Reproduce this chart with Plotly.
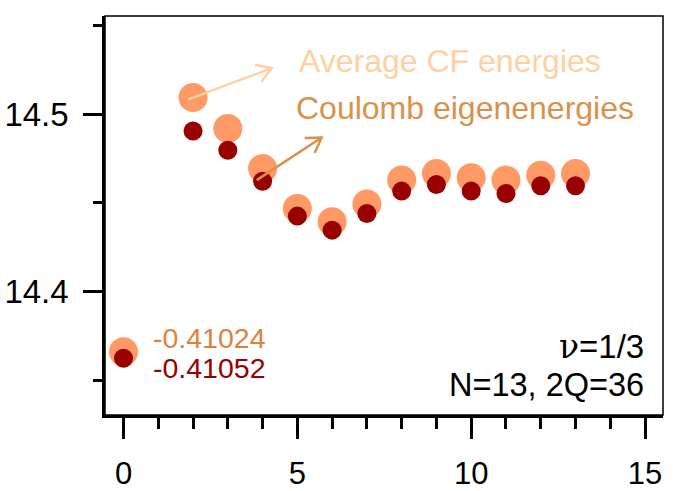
import math
import plotly.graph_objects as go

# ---- data ----
L_values = [0, 2, 3, 4, 5, 6, 7, 8, 9, 10, 11, 12, 13]
cf_avg = [14.3662, 14.5094, 14.4920, 14.4694, 14.4469, 14.4394, 14.4494,
          14.4629, 14.4666, 14.4642, 14.4629, 14.4657, 14.4666]
coulomb = [14.3625, 14.4906, 14.4797, 14.4623, 14.4426, 14.4347, 14.4441,
           14.4567, 14.4604, 14.4567, 14.4554, 14.4597, 14.4597]
x_ticks = [0, 5, 10, 15]
y_ticks = [14.4, 14.5]

# ---- styles ----
FONT = "Liberation Sans, Arial, sans-serif"
C_LIGHT = "#FF9A66"
C_DARK = "#990000"
C_AVG_TXT = "#FFD0A2"
C_COUL_TXT = "#D8924C"
C_VAL1 = "#E0803F"

W, H = 673, 491
ML, MR, MT, MB = 105, 10, 16, 76
XR = [-0.532, 15.516]
YR = [14.3305, 14.5554]
ppx = (W - ML - MR) / (XR[1] - XR[0])
ppy = (H - MT - MB) / (YR[1] - YR[0])

fig = go.Figure()
fig.add_trace(go.Scatter(x=L_values, y=cf_avg, mode="markers",
                         marker=dict(size=29, color=C_LIGHT), showlegend=False))
fig.add_trace(go.Scatter(x=L_values, y=coulomb, mode="markers",
                         marker=dict(size=19, color=C_DARK), showlegend=False))

shapes = []


def arrow(tail, tip, color, half_angle=32, length=17):
    shapes.append(dict(type="line", xref="x", yref="y", x0=tail[0], y0=tail[1],
                       x1=tip[0], y1=tip[1], line=dict(color=color, width=2.5)))
    dx = (tip[0] - tail[0]) * ppx
    dy = (tip[1] - tail[1]) * ppy
    ang = math.atan2(dy, dx) + math.pi
    pts = []
    for s in (1, -1):
        a = ang + s * math.radians(half_angle)
        pts.append((length * math.cos(a), length * math.sin(a)))
    path = "M {:.1f},{:.1f} L 0,0 L {:.1f},{:.1f}".format(pts[0][0], pts[0][1], pts[1][0], pts[1][1])
    shapes.append(dict(type="path", xref="x", yref="y", xsizemode="pixel", ysizemode="pixel",
                       xanchor=tip[0], yanchor=tip[1], path=path,
                       line=dict(color=color, width=2.5)))


arrow((1.864, 14.5084), (4.262, 14.526), C_AVG_TXT)
arrow((3.831, 14.4629), (5.700, 14.4869), C_COUL_TXT)

# frame
shapes.append(dict(type="rect", xref="paper", yref="paper", x0=0, y0=0, x1=1, y1=1,
                   line=dict(color="black", width=1.5), layer="above"))

annotations = [
    dict(x=4.98, y=14.5298, text="Average CF energies", xanchor="left", yanchor="middle",
         font=dict(size=32, color=C_AVG_TXT)),
    dict(x=4.89, y=14.5037, text="Coulomb eigenenergies", xanchor="left", yanchor="middle",
         font=dict(size=32, color=C_COUL_TXT)),
    dict(x=0.80, y=14.3739, text="-0.41024", xanchor="left", yanchor="middle",
         font=dict(size=28.5, color=C_VAL1)),
    dict(x=0.80, y=14.3569, text="-0.41052", xanchor="left", yanchor="middle",
         font=dict(size=28.5, color=C_DARK)),
    dict(x=15.02, y=14.369, text="<span style='font-family:DejaVu Serif'>ν</span>=1/3",
         xanchor="right", yanchor="middle", font=dict(size=33, color="black")),
    dict(x=15.02, y=14.3473, text="N=13, 2Q=36", xanchor="right", yanchor="middle",
         font=dict(size=32.5, color="black")),
]
for a in annotations:
    a.update(xref="x", yref="y", showarrow=False)

fig.update_layout(
    width=W, height=H,
    margin=dict(l=ML, r=MR, t=MT, b=MB),
    paper_bgcolor="white", plot_bgcolor="white",
    font=dict(family=FONT, color="black"),
    shapes=shapes, annotations=annotations,
    xaxis=dict(range=XR, tickvals=x_ticks, ticks="outside", ticklen=21, tickwidth=2.5,
               tickcolor="black", showline=True, linewidth=2.5, linecolor="black",
               showgrid=False, zeroline=False, tickfont=dict(size=31),
               ticklabelstandoff=8, automargin=False,
               minor=dict(dtick=1, ticks="outside", ticklen=11, tickwidth=2.5,
                          tickcolor="black", showgrid=False)),
    yaxis=dict(range=YR, tickvals=y_ticks, ticktext=["14.4", "14.5"], ticks="outside",
               ticklen=19, tickwidth=2.5, tickcolor="black", showline=True, linewidth=2.5,
               linecolor="black", showgrid=False, zeroline=False, tickfont=dict(size=33),
               ticklabelstandoff=8, automargin=False,
               minor=dict(dtick=0.05, tick0=14.35, ticks="outside", ticklen=9, tickwidth=2.5,
                          tickcolor="black", showgrid=False)),
)

fig.write_html("out.html")
